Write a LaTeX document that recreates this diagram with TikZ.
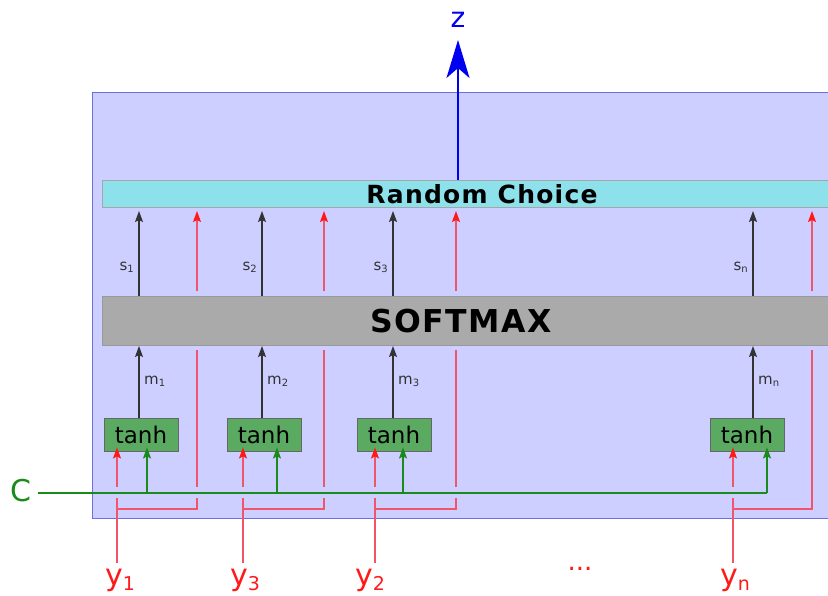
\documentclass[tikz,border=0pt]{standalone}
\usepackage{fontspec}
\setmainfont{DejaVu Sans}
\newfontfamily\widebold[LetterSpace=5]{DejaVu Sans Bold}
\newfontfamily\midbold[LetterSpace=5]{DejaVu Sans Bold}
\usetikzlibrary{arrows.meta}
\definecolor{panelfill}{HTML}{CCCFFF}
\definecolor{paneldraw}{HTML}{6E6EE0}
\definecolor{rcfill}{HTML}{8DE1EA}
\definecolor{smfill}{HTML}{AAAAAA}
\definecolor{tanhfill}{HTML}{5BAA62}
\definecolor{redline}{HTML}{F2556A}
\definecolor{redtext}{HTML}{FF1A1A}
\definecolor{greenline}{HTML}{1A8A1A}
\definecolor{blueline}{HTML}{0000F0}
\definecolor{darkline}{HTML}{333333}
% subscripted labels of a given size
\newcommand\bigsub[2]{#1\raisebox{-5pt}{\fontsize{19}{19}\selectfont #2}}
\newcommand\smallsub[2]{#1\raisebox{-2pt}{\fontsize{10}{10}\selectfont #2}}
\tikzset{
  bar/.style={draw=#1, line width=1pt, inner sep=0pt, anchor=north west},
  tanhbox/.style={draw=gray!80!black, fill=tanhfill, line width=0.9pt, minimum width=74pt, minimum height=33pt, inner sep=0pt, font=\fontsize{23}{23}\selectfont},
  tip/.style={-{Stealth[length=11pt,width=8pt,inset=2pt]}},
  darrow/.style={draw=darkline, line width=1.2pt, tip},
  rarrow/.style={draw=redline, line width=1.2pt, -{Stealth[length=11pt,width=8pt,inset=2pt,color=redtext]}},
  garrow/.style={draw=greenline, line width=1.2pt, tip},
  rline/.style={draw=redline, line width=1.2pt},
  smalllab/.style={font=\fontsize{15}{15}\selectfont, text=darkline, inner sep=0pt},
  ylab/.style={font=\fontsize{30}{30}\selectfont, text=redtext, inner sep=0pt},
}
\begin{document}
\begin{tikzpicture}[x=1pt,y=-1pt]
\clip (0,0) rectangle (828,595);
\fill[white] (0,0) rectangle (828,595);

% panel and the two horizontal bars
\node[bar=paneldraw, fill=panelfill, minimum width=760pt, minimum height=426pt] (panel) at (92,92) {};
\node[bar=gray!70, fill=rcfill, minimum width=740pt, minimum height=27pt] (rc) at (102,180) {};
\node[bar=gray!80, fill=smfill, minimum width=740pt, minimum height=49pt] (sm) at (102,296) {};
\node[font=\widebold\fontsize{25}{25}\selectfont, inner sep=0pt] (rctext) at (482,194) {Random Choice};
\node[font=\midbold\fontsize{31.5}{31.5}\selectfont, inner sep=0pt] (smtext) at (461,321) {SOFTMAX};

% output
\node[font=\fontsize{28}{28}\selectfont, text=blueline, inner sep=0pt] (z) at (458,20) {z};
\coordinate (zbase) at (458,180);
\coordinate (ztip) at (458,40);
\draw[blueline, line width=2.5pt, -{Stealth[length=38pt,width=23pt,inset=10pt]}] (zbase) -- (ztip);

% context vector
\node[font=\fontsize{30}{30}\selectfont, text=greenline, inner sep=0pt] (c) at (21,491) {C};

% columns: index / score arrow x / red pass-through x / red input x / green input x / tanh centre x / label x / subscripts
\foreach \i/\sx/\rx/\ax/\gx/\bx/\ylx/\ysub/\ssub in {
  1/139/197/117/147/141/120/1/1,
  2/262/324/243/277/264/245/3/2,
  3/393/456/375/403/394/370/2/3,
  4/753/812/733/767/747/735/n/n}{
  \node[tanhbox] (t\i) at (\bx,434.5) {tanh};
  % tanh -> softmax -> random choice
  \coordinate (mtop\i) at (\sx,346);
  \coordinate (sbot\i) at (\sx,296);
  \coordinate (stop\i) at (\sx,211);
  \draw[darrow] (t\i.north -| mtop\i) -- (mtop\i);
  \draw[darrow] (sbot\i) -- (stop\i);
  \node[smalllab, anchor=east] (s\i) at (\sx-5,267) {\smallsub{s}{\ssub}};
  \node[smalllab, anchor=west] (m\i) at (\sx+5,381) {\smallsub{m}{\ssub}};
  % inputs into tanh
  \coordinate (ain\i) at (\ax,487);
  \coordinate (gin\i) at (\gx,493);
  \draw[rarrow] (ain\i) -- ([yshift=4pt]t\i.south -| ain\i);
  \draw[garrow] (gin\i) -- ([yshift=4pt]t\i.south -| gin\i);
  % input word and its branch
  \node[ylab] (y\i) at (\ylx,580) {\bigsub{y}{\ysub}};
  \coordinate (ylow\i) at (\ax,563);
  \coordinate (yup\i) at (\ax,498);
  \coordinate (yjoin\i) at (\ax,509);
  \coordinate (rjoin\i) at (\rx,509);
  \coordinate (rgap\i) at (\rx,498);
  \coordinate (rmid\i) at (\rx,487);
  \coordinate (rsm\i) at (\rx,350);
  \coordinate (rlow\i) at (\rx,291);
  \coordinate (rtip\i) at (\rx,211);
  \draw[rline] (ylow\i) -- (yup\i);
  \draw[rline] (yjoin\i) -- (rjoin\i) -- (rgap\i);
  \draw[rline] (rmid\i) -- (rsm\i);
  \draw[rarrow] (rlow\i) -- (rtip\i);
}
% the last pass-through line has no green crossing to skip
\draw[rline] (rgap4) -- (rmid4);

% shared context line
\coordinate (cstart) at (38,493);
\draw[greenline, line width=1.2pt] (cstart) -- (gin4);

\node[font=\fontsize{26}{26}\selectfont, text=redtext, inner sep=0pt] (dots) at (580,569) {...};
\end{tikzpicture}
\end{document}
